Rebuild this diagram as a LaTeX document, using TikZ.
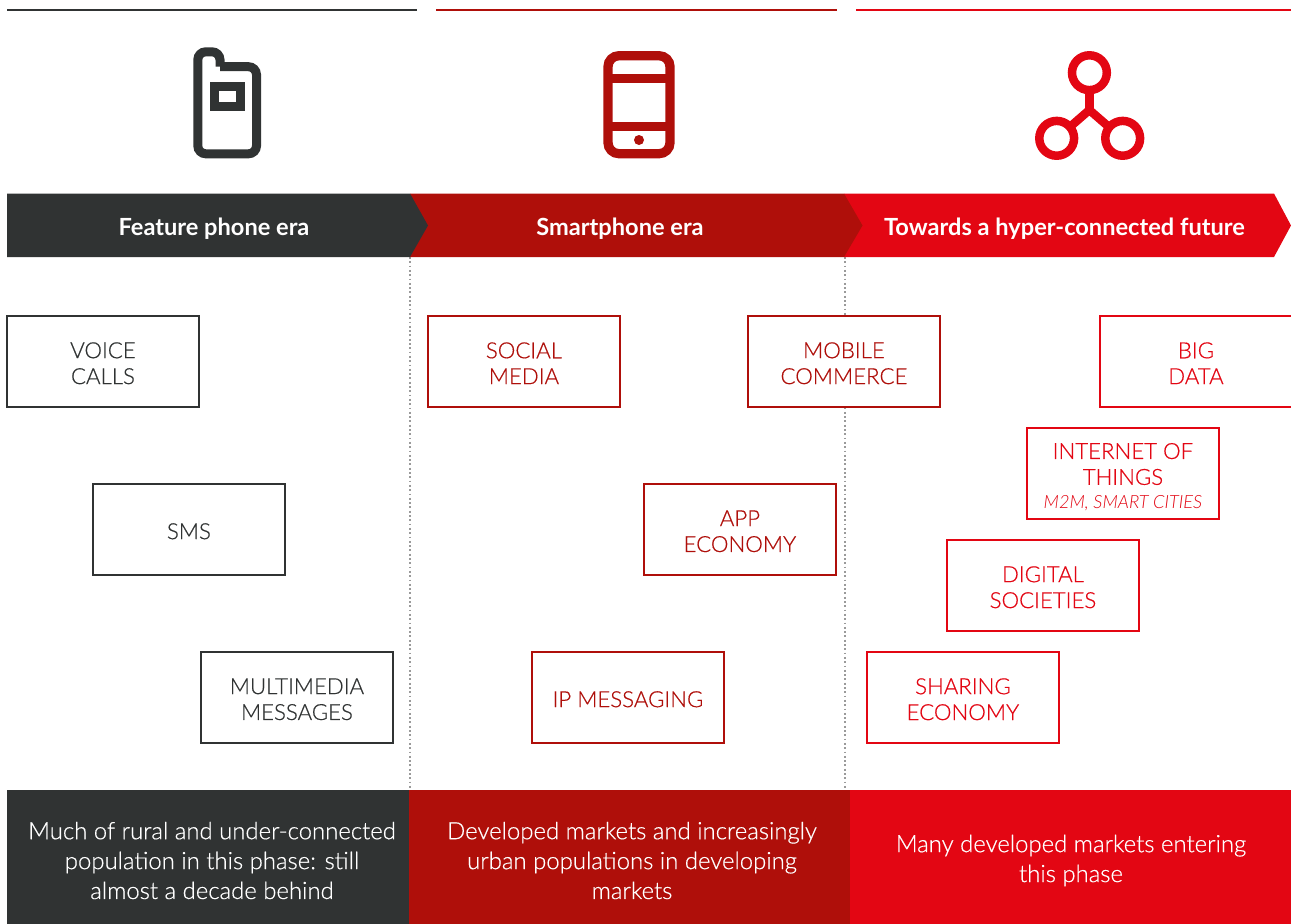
\documentclass[tikz,border=0pt]{standalone}
\usepackage{fontspec}
\setmainfont{Lato}[UprightFont={* Regular},BoldFont={* Bold},ItalicFont={* Light Italic}]
\newfontfamily\boxfont{Lato Light}[RawFeature={embolden=0.5}]
\definecolor{cdark}{HTML}{303333}
\definecolor{cred}{HTML}{AF0F0A}
\definecolor{cbright}{HTML}{E30613}
\definecolor{cdot}{HTML}{9A9A9A}
\tikzset{
  tbox/.style={draw=#1,fill=white,line width=1.5bp,minimum width=192bp,minimum height=91bp,inner sep=0pt,anchor=north west},
  tlab/.style={text=#1,inner sep=0pt,align=center,yshift=-1.8bp,font=\boxfont\fontsize{22.3}{26}\selectfont},
  band/.style={text=white,font=\bfseries\fontsize{23.7}{26}\selectfont},
  foot/.style={text=white,align=center,font=\boxfont\fontsize{24}{30}\selectfont},
  topline/.style={line width=2bp},
  sep/.style={draw=cdot,line width=1.5bp,dash pattern=on 1.8bp off 2.5bp},
  icon/.style={line width=#1,line join=miter}
}
\begin{document}
\begin{tikzpicture}[x=1bp,y=-1bp]
\useasboundingbox (0,0) rectangle (1291,924);
% top rules
\draw[topline,cdark] (7,9.5) -- (417,9.5);
\draw[topline,cred] (436,9.5) -- (837,9.5);
\draw[topline,cbright] (856,9.5) -- (1291,9.5);
% separators
\draw[sep] (410,257) -- (410,790);
\draw[sep] (845,257) -- (845,790);
% bands
\fill[cbright] (844,193.5) -- (1274,193.5) -- (1291,225.5) -- (1274,257) -- (844,257) -- cycle;
\fill[cred] (410,193.5) -- (844,193.5) -- (862.5,225.5) -- (844,257) -- (410,257) -- cycle;
\fill[cdark] (7,193.5) -- (410,193.5) -- (428,225.5) -- (410,257) -- (7,257) -- cycle;
\node[band] (b1) at (214,228.5) {Feature phone era};
\node[band] (b2) at (620,228.5) {Smartphone era};
\node[band] (b3) at (1064.5,228.5) {Towards a hyper-connected future};
% feature phone icon
\draw[cdark,icon=9bp,line cap=square,rounded corners=8bp] (220,66.7) -- (256.5,66.7) -- (256.5,153.8) -- (197.8,153.8) -- (197.8,51.8) -- (220,51.8) -- (220,66.7);
\draw[cdark,line width=9bp] (214.5,86.2) rectangle (240.3,106);
% smartphone icon
\draw[cred,icon=9.3bp,rounded corners=11bp] (608,55.7) rectangle (670,153.7);
\draw[cred,line width=9.3bp] (608,78.8) -- (670,78.8) (608,126.8) -- (670,126.8);
\fill[cred] (639,140) circle (5bp);
% network icon
\draw[cbright,line width=8.5bp] (1089.4,87) -- (1089.4,110);
\draw[cbright,line width=8.5bp] (1071,126) -- (1089.4,110) -- (1107.8,126);
\draw[cbright,line width=8.5bp] (1089.4,72.7) circle (17.4bp) (1056.7,138.3) circle (17.4bp) (1122.7,138.3) circle (17.4bp);
% boxes
\node[tbox=cdark] (voice) at (6.2,315.2) {};
\node[tlab=cdark] (voicet) at (voice.center) {VOICE\\CALLS};
\node[tbox=cdark] (sms) at (92.2,483.2) {};
\node[tlab=cdark] (smst) at (sms.center) {SMS};
\node[tbox=cdark] (mms) at (200.2,651.2) {};
\node[tlab=cdark] (mmst) at (mms.center) {MULTIMEDIA\\MESSAGES};
\node[tbox=cred] (social) at (427.2,315.2) {};
\node[tlab=cred] (socialt) at (social.center) {SOCIAL\\MEDIA};
\node[tbox=cred] (mobile) at (747.2,315.2) {};
\node[tlab=cred] (mobilet) at (mobile.center) {MOBILE\\COMMERCE};
\node[tbox=cred] (app) at (643.2,483.2) {};
\node[tlab=cred] (appt) at (app.center) {APP\\ECONOMY};
\node[tbox=cred] (ip) at (531.2,651.2) {};
\node[tlab=cred] (ipt) at (ip.center) {IP MESSAGING};
\node[tbox=cbright] (big) at (1099.2,315.2) {};
\node[tlab=cbright] (bigt) at (big.center) {BIG\\DATA};
\node[tbox=cbright] (iot) at (1026.2,427.2) {};
\node[tlab=cbright,yshift=-1.8bp] (iott) at (iot.center) {INTERNET OF\\THINGS\\[-2pt]{\normalfont\itshape\fontsize{18.3}{20}\selectfont M2M, SMART CITIES}};
\node[tbox=cbright] (dig) at (946.2,539.2) {};
\node[tlab=cbright] (digt) at (dig.center) {DIGITAL\\SOCIETIES};
\node[tbox=cbright] (shar) at (866.2,651.2) {};
\node[tlab=cbright] (shart) at (shar.center) {SHARING\\ECONOMY};
% footers
\fill[cdark] (7,790) rectangle (409,924);
\fill[cred] (409,790) rectangle (850,924);
\fill[cbright] (850,790) rectangle (1291,924);
\node[foot] (f1) at (212,860.5) {Much of rural and under-connected\\population in this phase: still\\almost a decade behind};
\node[foot] (f2) at (632,860.5) {Developed markets and increasingly\\urban populations in developing\\markets};
\node[foot] (f3) at (1071,860.5) {Many developed markets entering\\this phase};
\end{tikzpicture}
\end{document}
